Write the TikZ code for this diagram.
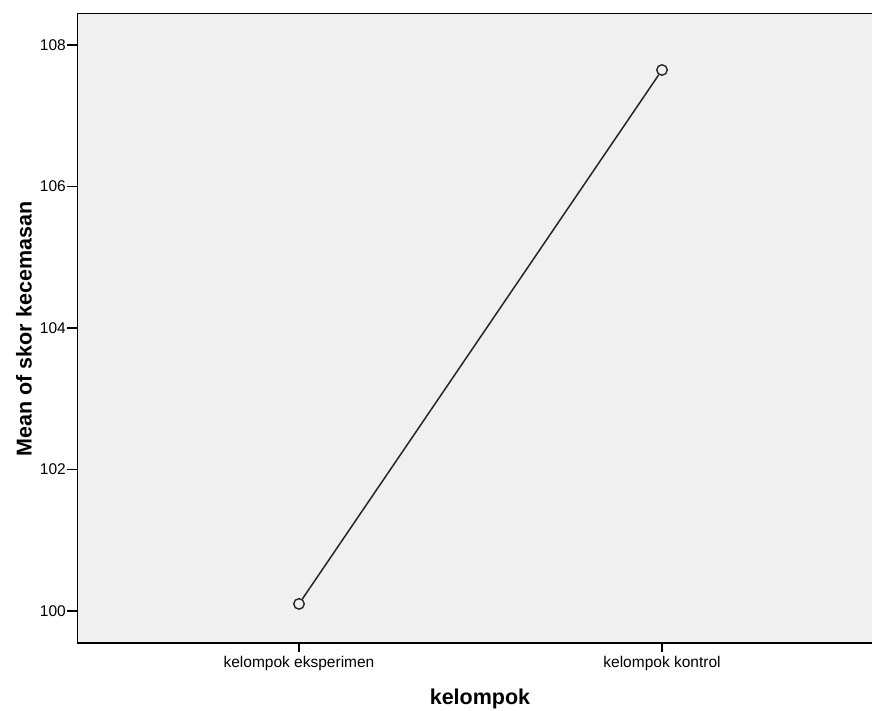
\documentclass[tikz,border=0pt]{standalone}
\usepackage{fontspec}
\setmainfont{Liberation Sans}
\usepackage{tikz}

\begin{document}
\begin{tikzpicture}[
            x=1pt, y=-1pt,
            tick label/.style={font=\fontsize{15.5}{16}\selectfont, inner sep=0pt},
            axis title/.style={font=\fontsize{21.5}{22}\selectfont\bfseries, inner sep=0pt},
            mean node/.style={circle, draw=black!85, line width=1.4pt, minimum size=10.5pt, inner sep=0pt},
            ]
            \def\ystep{70.75}
            \useasboundingbox (0,0) rectangle (872,711);

            \fill[black!6] (77.5,13.5) rectangle (872,643);
            \draw[line width=1.6pt] (872,13.5) -- (77.5,13.5) -- (77.5,643) -- (872,643);

            \foreach \v in {100,102,104,106,108} {
                \draw[line width=1.4pt] (67,{611-(\v-100)*\ystep}) -- (77.5,{611-(\v-100)*\ystep});
                \node[tick label, anchor=east] at (66,{611-(\v-100)*\ystep}) {\v};
            }

            \node[mean node] (eks) at (299,603.9) {};
            \node[mean node] (kon) at (662,70) {};
            \draw[line width=1.5pt, black!85] (eks) -- (kon);

            \draw[line width=1.4pt] (299,643) -- (299,652);
            \draw[line width=1.4pt] (662,643) -- (662,652);
            \node[tick label] (lab1) at (299,663) {kelompok eksperimen};
            \node[tick label] (lab2) at (662,663) {kelompok kontrol};

            \node[axis title] (xt) at (480,699) {kelompok};
            \node[axis title, rotate=90] (yt) at (24,329) {Mean of skor kecemasan};
        \end{tikzpicture}
\end{document}
